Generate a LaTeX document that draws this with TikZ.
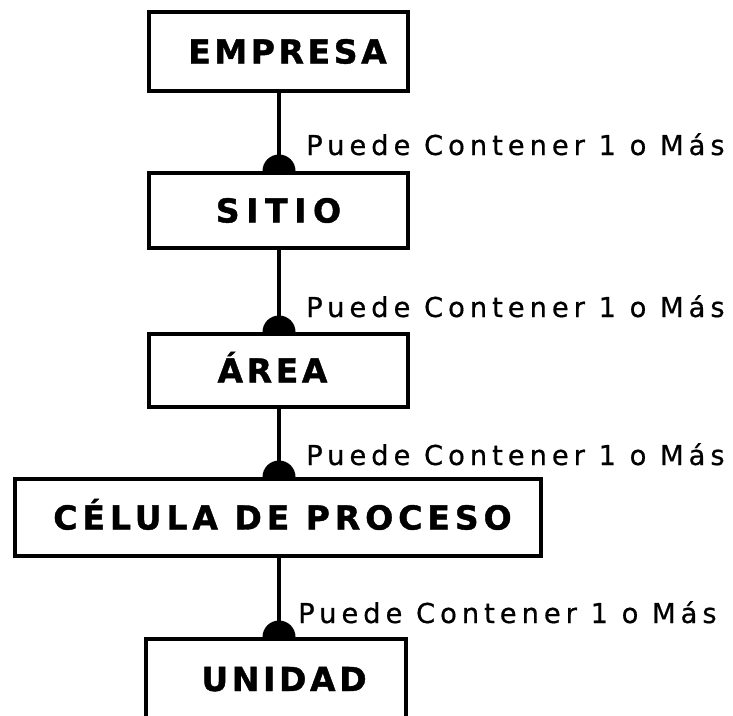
\documentclass[tikz,border=0pt]{standalone}
\usepackage{fontspec}
\usetikzlibrary{backgrounds}
\newfontfamily\boxfont{DejaVu Sans}[LetterSpace=11, BoldFeatures={FakeBold=1.2}]
\newfontfamily\lblfont{DejaVu Sans}[LetterSpace=18, FakeBold=0.6]
\tikzset{
  entbox/.style={draw=black, line width=4pt, fill=white, rectangle, inner sep=0pt,
    font=\boxfont\bfseries\fontsize{33}{33}\selectfont, text height=24pt, text depth=0pt},
  rel/.style={font=\lblfont\fontsize{27.4}{27.4}\selectfont, anchor=base west, inner sep=0pt},
  conn/.style={draw=black, line width=3.2pt},
}
\begin{document}
\begin{tikzpicture}[x=1pt,y=-1pt]
\useasboundingbox (0,0) rectangle (733,715);
\node[entbox, minimum width=259pt, minimum height=79pt] (emp) at (278.5,51.5) {\hspace*{18pt}EMPRESA};
\node[entbox, minimum width=259pt, minimum height=75pt] (sit) at (278.5,210.5) {\addfontfeature{LetterSpace=20}SITIO};
\node[entbox, minimum width=259pt, minimum height=73pt] (are) at (278.5,370.5) {ÁREA\hspace*{12pt}};
\node[entbox, minimum width=526pt, minimum height=77pt] (cel) at (278,517.5) {\addfontfeature{LetterSpace=15}\hspace*{9pt}CÉLULA DE PROCESO};
\node[entbox, minimum width=260pt, minimum height=80pt] (uni) at (276,679) {\hspace*{16pt}UNIDAD};
\node[rel] (l1) at (306,155) {Puede Contener 1 o Más};
\node[rel] (l2) at (306,317) {Puede Contener 1 o Más};
\node[rel] (l3) at (306,465) {Puede Contener 1 o Más};
\node[rel] (l4) at (298,623) {Puede Contener 1 o Más};
\begin{pgfonlayer}{background}
\coordinate (c1) at ([xshift=0.5pt]emp.south);
\coordinate (c2) at ([xshift=0.5pt]sit.south);
\coordinate (c3) at ([xshift=0.5pt]are.south);
\coordinate (c4) at ([xshift=1pt]cel.south);
\draw[conn] (c1) -- (c1 |- sit.north);
\fill (c1 |- sit.north) circle[radius=16.5pt];
\draw[conn] (c2) -- (c2 |- are.north);
\fill (c2 |- are.north) circle[radius=16.5pt];
\draw[conn] (c3) -- (c3 |- cel.north);
\fill (c3 |- cel.north) circle[radius=16.5pt];
\draw[conn] (c4) -- (c4 |- uni.north);
\fill (c4 |- uni.north) circle[radius=16.5pt];
\end{pgfonlayer}
\end{tikzpicture}
\end{document}
